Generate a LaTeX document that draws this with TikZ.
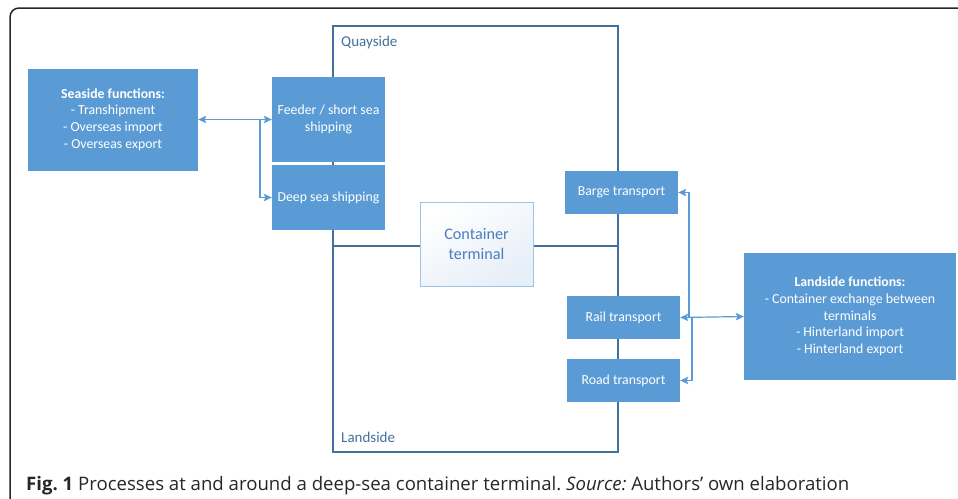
\documentclass[tikz,border=0pt]{standalone}
\usepackage{fontspec}
\setmainfont{Carlito}
\newfontfamily\capfont{Open Sans}
\usetikzlibrary{arrows.meta}
\definecolor{boxblue}{HTML}{5B9BD5}
\definecolor{edgeblue}{HTML}{41719C}
\definecolor{ctedge}{HTML}{9DC3E6}
\definecolor{cttext}{HTML}{4A7EBB}
\definecolor{ctfill}{HTML}{E6EEF8}
\tikzset{mytip/.tip={Stealth[length=8pt,width=7.5pt,inset=1.5pt]}}
\frenchspacing
\begin{document}
\begin{tikzpicture}[x=1pt,y=-1pt,
  fbox/.style={fill=boxblue, text=white, align=center, inner sep=0pt,
    font=\fontsize{13.8}{16.7}\selectfont},
  arr/.style={draw=boxblue, line width=1.2pt, -{mytip}},
  darr/.style={draw=boxblue, line width=1.2pt, {mytip}-{mytip}},
  zone/.style={draw=edgeblue, line width=2pt},
  zonelabel/.style={text=edgeblue, anchor=west, inner sep=0pt, font=\fontsize{15}{18}\selectfont}]
\useasboundingbox (0,0) rectangle (958,498);
\clip (0,0) rectangle (958,498);
% outer frame
\draw[line width=1.5pt, rounded corners=9pt, black!85] (10,8) rectangle (990,530);
% zones
\draw[zone] (333,26) rectangle (618,246);
\draw[zone] (333,246) rectangle (618,452);
\node[zonelabel] (quay) at (341,42) {Quayside};
\node[zonelabel] (land) at (341,437) {Landside};
% boxes
\node[fbox, minimum width=170pt, minimum height=102pt] (sea) at (113,119.5)
  {\textbf{Seaside functions:}\\- Transhipment\\- Overseas import\\- Overseas export};
\node[fbox, minimum width=113pt, minimum height=85pt] (feeder) at (328.5,119.5)
  {Feeder / short sea\\shipping};
\node[fbox, minimum width=113pt, minimum height=65pt] (deep) at (328.5,197.5)
  {Deep sea shipping};
\node[draw=ctedge, line width=1pt, top color=white, bottom color=ctfill, shading angle=30,
  text=cttext, align=center, minimum width=113pt, minimum height=84pt, inner sep=0pt,
  font=\fontsize{16.2}{19.5}\selectfont] (ct) at (476.5,244) {Container\\terminal};
\node[fbox, minimum width=113pt, minimum height=43pt] (barge) at (621.5,192.5) {Barge transport};
\node[fbox, minimum width=113pt, minimum height=43pt] (rail) at (623.5,317.5) {Rail transport};
\node[fbox, minimum width=113pt, minimum height=43pt] (road) at (623.5,380.5) {Road transport};
\node[fbox, minimum width=212pt, minimum height=127pt] (landf) at (850,316.5)
  {\textbf{Landside functions:}\\- Container exchange between\\terminals\\- Hinterland import\\- Hinterland export};
% connectors
\draw[darr] (sea.east) -- (feeder.west);
\coordinate (j1) at (260,119.5);
\draw[arr] (j1) |- (deep.west);
\draw[darr] (rail.east) -- (landf.west);
\coordinate (j2) at (689,317.5);
\draw[arr] (j2) |- (barge.east);
\coordinate (j3) at (692,317.5);
\draw[arr] (j3) |- (road.east);
% caption
\node[anchor=base west, inner sep=0pt, text=black!85, font=\capfont\fontsize{18.6}{22}\selectfont] (cap) at (26,490)
  {\textbf{Fig. 1} Processes at and around a deep-sea container terminal. \textit{Source:} Authors’ own elaboration};
\end{tikzpicture}
\end{document}
